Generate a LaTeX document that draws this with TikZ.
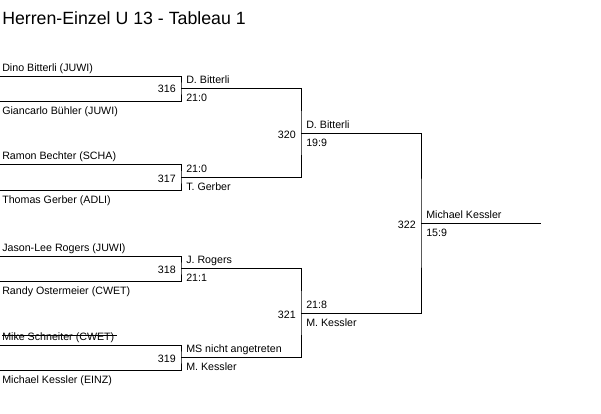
\documentclass[tikz,border=0pt]{standalone}
\usepackage{fontspec}
\setmainfont{Liberation Sans}
\usepackage{tikz}

\tikzset{
	player/.style={anchor=base west, inner sep=0pt, font=\fontsize{8}{10}\selectfont},
	match_no/.style={anchor=base east, inner sep=0pt, font=\fontsize{8}{10}\selectfont},
	bracket/.style={draw, line width=0.75pt}
}

\begin{document}
\begin{tikzpicture}[x=0.75pt, y=-0.75pt]
		\useasboundingbox (0,0) rectangle (601,414);
		\node[anchor=base west, inner sep=0pt, font=\fontsize{13.3}{16}\selectfont] (title) at (2, 25) {Herren-Einzel U 13 - Tableau 1};
		% line ends
		\coordinate (dino_line) at (0, 76);
		\coordinate (giancarlo_line) at (0, 101);
		\coordinate (ramon_line) at (0, 164);
		\coordinate (thomas_line) at (0, 190);
		\coordinate (jason_line) at (0, 256);
		\coordinate (randy_line) at (0, 281);
		\coordinate (mike_line) at (0, 345);
		\coordinate (michael_line) at (0, 370);
		\coordinate (m316) at (181, 88);
		\coordinate (m317) at (181, 177);
		\coordinate (m318) at (181, 268);
		\coordinate (m319) at (181, 357);
		\coordinate (m320) at (301, 133);
		\coordinate (m321) at (301, 313);
		\coordinate (m322) at (421, 223);
		\coordinate (champion) at (541, 223);
		% players
		\node[player] (dino) at (2, 71.5) {Dino Bitterli (JUWI)};
		\node[player] (giancarlo) at (2, 114) {Giancarlo Bühler (JUWI)};
		\node[player] (ramon) at (2, 159.5) {Ramon Bechter (SCHA)};
		\node[player] (thomas) at (2, 203) {Thomas Gerber (ADLI)};
		\node[player] (jason) at (2, 251.5) {Jason-Lee Rogers (JUWI)};
		\node[player] (randy) at (2, 294) {Randy Ostermeier (CWET)};
		\node[player] (mike) at (2, 340.5) {Mike Schneiter (CWET)};
		\node[player] (michael) at (2, 383) {Michael Kessler (EINZ)};
		% match numbers
		\node[match_no] (no316) at (176, 93) {316};
		\node[match_no] (no317) at (176, 182) {317};
		\node[match_no] (no318) at (176, 273) {318};
		\node[match_no] (no319) at (176, 362) {319};
		\node[match_no] (no320) at (296, 138) {320};
		\node[match_no] (no321) at (296, 318) {321};
		\node[match_no] (no322) at (416, 228) {322};
		% winners and scores
		\node[player] (win316) at (186, 83) {D. Bitterli};
		\node[player] (score316) at (186, 101) {21:0};
		\node[player] (score317) at (186, 172) {21:0};
		\node[player] (win317) at (186, 190) {T. Gerber};
		\node[player] (win318) at (186, 263) {J. Rogers};
		\node[player] (score318) at (186, 281) {21:1};
		\node[player] (score319) at (186, 352) {MS nicht angetreten};
		\node[player] (win319) at (186, 370) {M. Kessler};
		\node[player] (win320) at (306, 128) {D. Bitterli};
		\node[player] (score320) at (306, 146) {19:9};
		\node[player] (score321) at (306, 308) {21:8};
		\node[player] (win321) at (306, 326) {M. Kessler};
		\node[player] (win322) at (426, 218) {Michael Kessler};
		\node[player] (score322) at (426, 236) {15:9};
		% brackets
		\path [bracket] (dino_line) -| (m316) |- (giancarlo_line);
		\path [bracket] (ramon_line) -| (m317) |- (thomas_line);
		\path [bracket] (jason_line) -| (m318) |- (randy_line);
		\path [bracket] (mike_line) -| (m319) |- (michael_line);
		\path [bracket] (m316) -| (m320) |- (m317);
		\path [bracket] (m318) -| (m321) |- (m319);
		\path [bracket] (m320) -| (m322) |- (m321);
		\path [bracket] (m322) -- (champion);
		% walkover
		\path [draw, line width=0.75pt] ([yshift=3.6pt]mike.base west) -- ([xshift=2pt, yshift=3.6pt]mike.base east);
	\end{tikzpicture}
\end{document}
